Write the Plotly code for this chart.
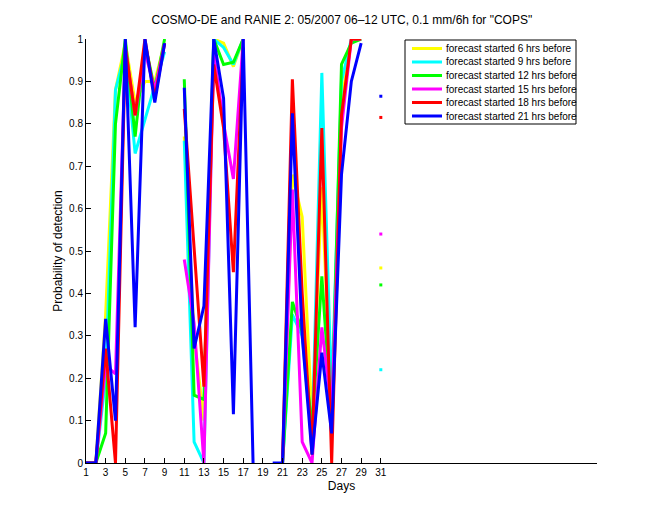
import plotly.graph_objects as go

days = list(range(1, 32))
x_tick_vals = list(range(1, 32, 2))
y_tick_vals = [0, 0.1, 0.2, 0.3, 0.4, 0.5, 0.6, 0.7, 0.8, 0.9, 1]
y_tick_text = ["0", "0.1", "0.2", "0.3", "0.4", "0.5", "0.6", "0.7", "0.8", "0.9", "1"]

N = None
pod_6h = [0, 0, 0.35, 0.88, 0.99, 0.85, 0.90, 0.90, 0.99, N,
          0.77, 0.30, 0.10, 1.0, 0.99, 0.935, 1.0, N, N, N,
          0, 0.68, 0.58, 0.10, 0.65, 0.10, 0.85, 1.0, 1.0, N, 0.46]
pod_9h = [0, 0, 0.20, 0.88, 0.97, 0.73, 0.81, 0.89, 0.97, N,
          0.76, 0.05, 0.0, 1.0, 0.98, 0.94, 1.0, N, N, N,
          0, 0.35, 0.30, 0.05, 0.92, 0.15, 0.90, 1.0, 1.0, N, 0.22]
pod_12h = [0, 0, 0.07, 0.80, 1.0, 0.77, 0.99, 0.88, 1.0, N,
           0.905, 0.16, 0.15, 1.0, 0.94, 0.945, 1.0, N, N, N,
           0, 0.38, 0.31, 0.08, 0.44, 0.10, 0.94, 0.99, 1.0, N, 0.42]
pod_15h = [0, 0, 0.23, 0.21, 0.98, 0.82, 0.97, 0.88, 0.99, N,
           0.48, 0.33, 0.0, 0.97, 0.80, 0.67, 1.0, N, N, N,
           0, 0.645, 0.05, 0.0, 0.32, 0.12, 0.79, 1.0, 1.0, N, 0.54]
pod_18h = [0, 0, 0.27, 0.0, 0.98, 0.82, 1.0, 0.86, 0.99, N,
           0.835, 0.50, 0.18, 0.94, 0.79, 0.45, 0.98, N, N, N,
           0, 0.905, 0.40, 0.02, 0.79, 0.0, 0.82, 1.0, 1.0, N, 0.815]
pod_21h = [0, 0, 0.34, 0.10, 1.0, 0.32, 1.0, 0.85, 0.99, N,
           0.885, 0.27, 0.37, 1.0, 0.86, 0.115, 1.0, 0.0, N, 0.0,
           0.0, 0.825, 0.30, 0.02, 0.26, 0.07, 0.68, 0.90, 0.99, N, 0.865]

series = [
    ("forecast started 6 hrs before", pod_6h, "#ffff00"),
    ("forecast started 9 hrs before", pod_9h, "#00ffff"),
    ("forecast started 12 hrs before", pod_12h, "#00ff00"),
    ("forecast started 15 hrs before", pod_15h, "#ff00ff"),
    ("forecast started 18 hrs before", pod_18h, "#ff0000"),
    ("forecast started 21 hrs before", pod_21h, "#0000ff"),
]

fig = go.Figure()
for name, vals, col in series:
    fig.add_trace(go.Scatter(x=days, y=vals, mode="lines", name=name,
                             line=dict(color=col, width=3), connectgaps=False))
# isolated points (no neighbours) drawn as small dots
for name, vals, col in series:
    xs, ys = [], []
    for i, v in enumerate(vals):
        if v is None:
            continue
        left = vals[i - 1] if i > 0 else None
        right = vals[i + 1] if i < len(vals) - 1 else None
        if left is None and right is None:
            xs.append(days[i]); ys.append(v)
    fig.add_trace(go.Scatter(x=xs, y=ys, mode="markers", showlegend=False,
                             marker=dict(color=col, size=3, symbol="square",
                                         line=dict(width=0))))

# plot area in pixels
L, R, T, B = 86, 597, 39, 463
def px(xp):
    return (xp - L) / (R - L)
def py(yp):
    return (B - yp) / (B - T)

font = "Liberation Sans, Arial, Helvetica, sans-serif"

# hand-drawn legend box (MATLAB style, compact rows)
shapes = [dict(type="rect", xref="paper", yref="paper",
               x0=px(405), x1=px(576), y0=py(124), y1=py(40),
               line=dict(color="black", width=1), fillcolor="white", layer="above")]
annotations = []
row_y0, row_step = 48.5, 13.5
for k, (name, vals, col) in enumerate(series):
    yy = row_y0 + k * row_step
    shapes.append(dict(type="line", xref="paper", yref="paper",
                       x0=px(412), x1=px(442), y0=py(yy), y1=py(yy),
                       line=dict(color=col, width=3), layer="above"))
    annotations.append(dict(text=name, xref="paper", yref="paper",
                            x=px(444), y=py(yy), xanchor="left", yanchor="middle",
                            showarrow=False, font=dict(size=10, family=font)))

fig.update_layout(
    width=660, height=520,
    margin=dict(l=L, r=660 - R, t=T, b=520 - B),
    paper_bgcolor="white", plot_bgcolor="white",
    font=dict(family=font, size=11, color="black"),
    title=dict(text='COSMO-DE and RANIE 2: 05/2007 06\u201312 UTC, 0.1 mm/6h for "COPS"',
               x=0.518, xanchor="center", y=0.962, yanchor="middle",
               font=dict(size=12, family=font)),
    showlegend=False,
    shapes=shapes,
    annotations=annotations,
)
fig.update_xaxes(range=[1, 53], tickvals=x_tick_vals, ticks="inside", ticklen=5,
                 tickcolor="black", showline=True, linecolor="black", linewidth=1,
                 showgrid=False, zeroline=False, title=dict(text="Days", standoff=4,
                 font=dict(size=12)), tickfont=dict(size=10))
fig.update_yaxes(range=[0, 1], tickvals=y_tick_vals, ticktext=y_tick_text,
                 ticks="inside", ticklen=5, tickcolor="black", showline=True,
                 linecolor="black", linewidth=1, showgrid=False, zeroline=False,
                 title=dict(text="Probability of detection", standoff=3,
                            font=dict(size=12)), tickfont=dict(size=10))

fig.write_html("out.html")
